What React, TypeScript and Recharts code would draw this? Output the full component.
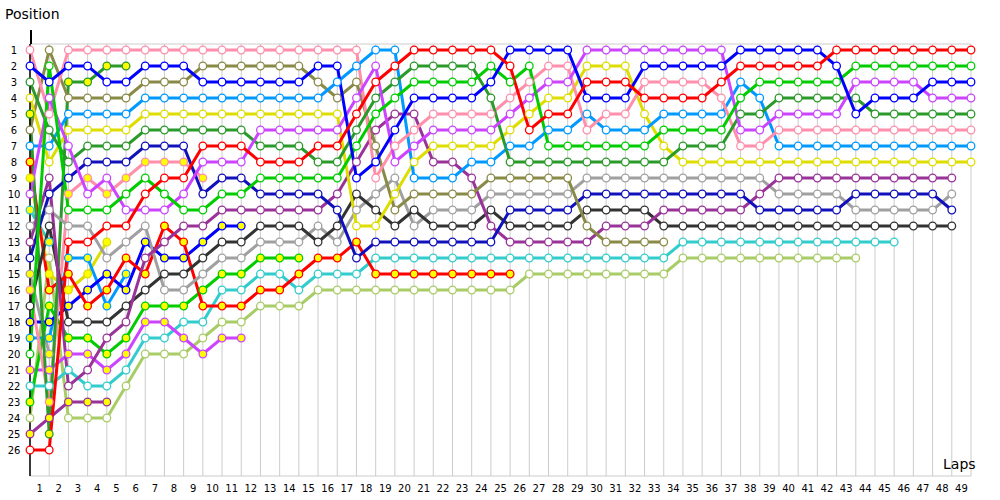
import { LineChart, Line, XAxis, YAxis, CartesianGrid } from "recharts";

const laps = [
  0, 1, 2, 3, 4, 5, 6, 7, 8, 9, 10, 11, 12, 13, 14, 15, 16, 17, 18, 19, 20, 21, 22, 23, 24,
  25, 26, 27, 28, 29, 30, 31, 32, 33, 34, 35, 36, 37, 38, 39, 40, 41, 42, 43, 44, 45, 46, 47, 48, 49,
];
const positions = [1, 2, 3, 4, 5, 6, 7, 8, 9, 10, 11, 12, 13, 14, 15, 16, 17, 18, 19, 20, 21, 22, 23, 24, 25, 26];

// position per lap (index = lap), null = not running
const pink = [1, 5, 1, 1, 1, 1, 1, 1, 1, 1, 1, 1, 1, 1, 1, 1, 1, 1, 9, 7, 6, 5, 5, 5, 5, 4, 3, 2, 2, 6, 5, 5, 3, 3, 3, 3, 4, 7, 7, 6, 6, 6, 6, 6, 6, 6, 6, 6, 6, 6];
const blue = [2, 3, 2, 2, 3, 3, 2, 2, 2, 3, 3, 3, 3, 3, 3, 2, 2, 9, 8, 6, 4, 4, 4, 4, 3, 1, 1, 1, 1, 4, 4, 4, 2, 2, 2, 2, 2, 1, 1, 1, 1, 1, 2, 5, 4, 4, 4, 3, 3, 3];
const darkGreen = [3, 6, 8, 7, 7, 7, 6, 6, 6, 6, 6, 6, 7, 7, 7, 8, 8, 6, 4, 3, 2, 2, 2, 2, 4, 8, 8, 8, 8, 8, 8, 8, 8, 8, 7, 7, 7, 5, 5, 4, 4, 4, 4, 4, 5, 5, 5, 5, 5, 5];
const yellow = [4, 8, 6, 6, 6, 6, 5, 5, 5, 5, 5, 5, 5, 5, 5, 5, 5, 12, 12, 10, 8, 7, 7, 7, 7, 6, 5, 4, 4, 2, 2, 2, 5, 7, 8, 8, 8, 8, 8, 8, 8, 8, 8, 8, 8, 8, 8, 8, 8, 8];
const olive = [6, 1, 4, 4, 4, 4, 3, 3, 3, 2, 2, 2, 2, 2, 2, 3, 4, 3, 7, 11, 10, 10, 10, 10, 9, 9, 9, 9, 9, 12, 13, 13, 13, 13];
const lightBlue = [7, 7, 5, 5, 5, 5, 4, 4, 4, 4, 4, 4, 4, 4, 4, 4, 3, 2, 1, 1, 9, 9, 9, 8, 8, 7, 7, 6, 6, 5, 6, 6, 6, 5, 5, 5, 5, 3, 4, 7, 7, 7, 7, 7, 7, 7, 7, 7, 7, 7];
const green = [20, 2, 11, 11, 11, 10, 9, 10, 11, 11, 10, 10, 9, 9, 9, 9, 9, 7, 5, 4, 3, 3, 3, 3, 2, 3, 2, 7, 7, 7, 7, 7, 7, 6, 6, 6, 6, 4, 3, 3, 3, 3, 3, 2, 2, 2, 2, 2, 2, 2];
const navy = [14, 10, 9, 8, 8, 8, 7, 7, 7, 10, 9, 9, 10, 10, 10, 10, 11, 14, 13, 13, 13, 13, 13, 13, 13, 11, 11, 11, 11, 10, 10, 10, 10, 10, 10, 10, 10, 10, 11, 11, 11, 11, 11, 10, 10, 10, 10, 10, 11];
const red = [26, 26, 13, 13, 12, 12, 10, 9, 9, 7, 7, 7, 8, 8, 8, 7, 7, 5, 3, 2, 1, 1, 1, 1, 1, 2, 6, 5, 5, 3, 3, 3, 4, 4, 4, 4, 3, 2, 2, 2, 2, 2, 1, 1, 1, 1, 1, 1, 1, 1];
const violet = [10, 4, 7, 10, 9, 11, 11, 11, 10, 8, 8, 8, 6, 6, 6, 6, 6, 4, 2, 8, 7, 6, 6, 6, 6, 5, 4, 3, 3, 1, 1, 1, 1, 1, 1, 1, 1, 6, 6, 5, 5, 5, 5, 3, 3, 3, 3, 4, 4, 4];
const darkPurple = [13, 9, 22, 21, 19, 18, 14, 13, 12, 12, 11, 11, 11, 11, 11, 11, 10, 8, 6, 5, 5, 8, 8, 9, 12, 13, 13, 13, 13, 13, 12, 12, 12, 11, 11, 11, 11, 11, 10, 9, 9, 9, 9, 9, 9, 9, 9, 9, 9];
const darkGray = [17, 12, 18, 18, 18, 17, 16, 15, 15, 14, 13, 13, 12, 12, 12, 13, 12, 10, 11, 12, 11, 12, 12, 12, 11, 12, 12, 12, 12, 11, 11, 11, 11, 12, 12, 12, 12, 12, 12, 12, 12, 12, 12, 12, 12, 12, 12, 12, 12];
const gray = [12, 11, 12, 12, 14, 13, 12, 16, 16, 15, 14, 14, 13, 13, 13, 12, 13, 11, 10, 9, 12, 11, 11, 11, 10, 10, 10, 10, 10, 9, 9, 9, 9, 9, 9, 9, 9, 9, 9, 10, 10, 10, 10, 11, 11, 11, 11, 11, 10];
const cyan = [22, 22, 21, 22, 22, 21, 19, 19, 18, 18, 16, 16, 15, 15, 16, 15, 15, 15, 14, 14, 14, 14, 14, 14, 14, 14, 14, 14, 14, 14, 14, 14, 14, 14, 13, 13, 13, 13, 13, 13, 13, 13, 13, 13, 13, 13];
const lightOlive = [24, 14, 24, 24, 24, 22, 20, 20, 20, 19, 18, 18, 17, 17, 17, 16, 16, 16, 16, 16, 16, 16, 16, 16, 16, 16, 15, 15, 15, 15, 15, 15, 15, 15, 14, 14, 14, 14, 14, 14, 14, 14, 14, 14];
const redB = [8, 16, 15, 17, 16, 14, 15, 12, 13, 17, 17, 17, 16, 16, 15, 14, 14, 13, 15, 15, 15, 15, 15, 15, 15, 15];
const pinkB = [16, 23, 10, 9, 10, 9, 8, 8, 8, 9];
const violetB = [21, 21, 20, 20, 21, 20, 18, 18, 19, 20, 19, 19];
const blueB = [18, 18, 17, 16, 15, 16, 13, 14, 14, 13, 12, 12];
const greenB = [23, 17, 19, 19, 20, 19, 17, 17, 17, 16, 15, 15, 14, 14, 14];
const darkGreenB = [5, 25, 3, 3, 2, 2];
const lightBlueB = [19, 19, 14, 14, 17, 15];
const yellowB = [9, 15, 16, 15, 13];
const darkPurpleB = [25, 24, 23, 23, 23];
const grayB = [15, 20];
const cyanB = [11, 13];

const series = [
  { key: "lightOlive", pos: lightOlive, color: "#a8cc66", pit: false },
  { key: "cyan", pos: cyan, color: "#33cccc", pit: false },
  { key: "cyanB", pos: cyanB, color: "#33cccc", pit: true },
  { key: "grayB", pos: grayB, color: "#a0a0a0", pit: true },
  { key: "darkPurpleB", pos: darkPurpleB, color: "#993399", pit: true },
  { key: "yellowB", pos: yellowB, color: "#dddd00", pit: true },
  { key: "lightBlueB", pos: lightBlueB, color: "#0099ff", pit: true },
  { key: "violetB", pos: violetB, color: "#cc44ff", pit: true },
  { key: "blueB", pos: blueB, color: "#0000ff", pit: true },
  { key: "greenB", pos: greenB, color: "#00cc00", pit: true },
  { key: "pinkB", pos: pinkB, color: "#ff8fab", pit: true },
  { key: "redB", pos: redB, color: "#ff0000", pit: true },
  { key: "darkGreenB", pos: darkGreenB, color: "#2a9a2a", pit: true },
  { key: "gray", pos: gray, color: "#a0a0a0", pit: false },
  { key: "darkGray", pos: darkGray, color: "#333333", pit: false },
  { key: "darkPurple", pos: darkPurple, color: "#993399", pit: false },
  { key: "navy", pos: navy, color: "#1111bb", pit: false },
  { key: "olive", pos: olive, color: "#8a8a48", pit: false },
  { key: "yellow", pos: yellow, color: "#dddd00", pit: false },
  { key: "lightBlue", pos: lightBlue, color: "#0099ff", pit: false },
  { key: "pink", pos: pink, color: "#ff8fab", pit: false },
  { key: "darkGreen", pos: darkGreen, color: "#2a9a2a", pit: false },
  { key: "violet", pos: violet, color: "#cc44ff", pit: false },
  { key: "green", pos: green, color: "#00cc00", pit: false },
  { key: "blue", pos: blue, color: "#0000ff", pit: false },
  { key: "red", pos: red, color: "#ff0000", pit: false },
];

const rows = laps.map((lap) => {
  const row: Record<string, number | null> = { lap };
  series.forEach((s) => {
    row[s.key] = s.pos[lap] ?? null;
  });
  return row;
});

const font = "'DejaVu Sans', Verdana, sans-serif";

function makeDot(color: string, pit: boolean) {
  return (props: any) => {
    const { cx, cy, value, index } = props;
    if (value == null || cy == null) return <g key={index} />;
    return (
      <circle
        key={index}
        cx={cx}
        cy={cy}
        r={3.8}
        fill={pit ? "#ffff00" : "#ffffff"}
        stroke={color}
        strokeWidth={1.3}
      />
    );
  };
}

const LapTick = (props: any) => {
  const { x, payload } = props;
  if (payload.value === 0) return <g />;
  return (
    <text x={x - 9.6} y={492} textAnchor="middle" fontSize={10} fontFamily={font} fill="#000">
      {payload.value}
    </text>
  );
};

const LeftTick = (props: any) => {
  const { y, payload } = props;
  return (
    <text x={14} y={y + 3.5} textAnchor="middle" fontSize={10} fontFamily={font} fill="#000">
      {payload.value}
    </text>
  );
};

const RightTick = (props: any) => {
  const { y, payload } = props;
  return (
    <text x={977} y={y + 3.5} textAnchor="start" fontSize={10} fontFamily={font} fill="#000">
      {payload.value}
    </text>
  );
};

export default function App() {
  return (
    <div style={{ position: "absolute", left: 0, top: 0, width: 1000, height: 500, background: "#fff" }}>
      <LineChart width={1000} height={500} data={rows} margin={{ top: 44, right: 0, bottom: 0, left: 0 }}>
        <CartesianGrid stroke="#cccccc" strokeWidth={1} />
        <XAxis
          dataKey="lap"
          type="number"
          domain={[0, 49]}
          ticks={laps}
          interval={0}
          height={24}
          axisLine={false}
          tickLine={false}
          tick={<LapTick />}
        />
        <YAxis
          yAxisId="left"
          type="number"
          domain={[0.625, 27.625]}
          reversed
          ticks={positions}
          interval={0}
          width={30}
          axisLine={{ stroke: "#000", strokeWidth: 1.5 }}
          tickLine={false}
          tick={<LeftTick />}
        />
        <YAxis
          yAxisId="right"
          orientation="right"
          type="number"
          domain={[0.625, 27.625]}
          reversed
          ticks={positions}
          interval={0}
          width={29}
          axisLine={false}
          tickLine={false}
          tick={<RightTick />}
        />
        {series.map((s) => (
          <Line
            key={s.key}
            yAxisId="left"
            dataKey={s.key}
            stroke={s.color}
            strokeWidth={3}
            dot={makeDot(s.color, s.pit)}
            activeDot={false}
            connectNulls={false}
            isAnimationActive={false}
          />
        ))}
      </LineChart>
      <div style={{ position: "absolute", left: 30, top: 30, width: 1.5, height: 14, background: "#000" }} />
      <div style={{ position: "absolute", left: 5, top: 6, fontFamily: font, fontSize: 14, color: "#000" }}>Position</div>
      <div style={{ position: "absolute", left: 943, top: 456, fontFamily: font, fontSize: 14, color: "#000" }}>Laps</div>
    </div>
  );
}
